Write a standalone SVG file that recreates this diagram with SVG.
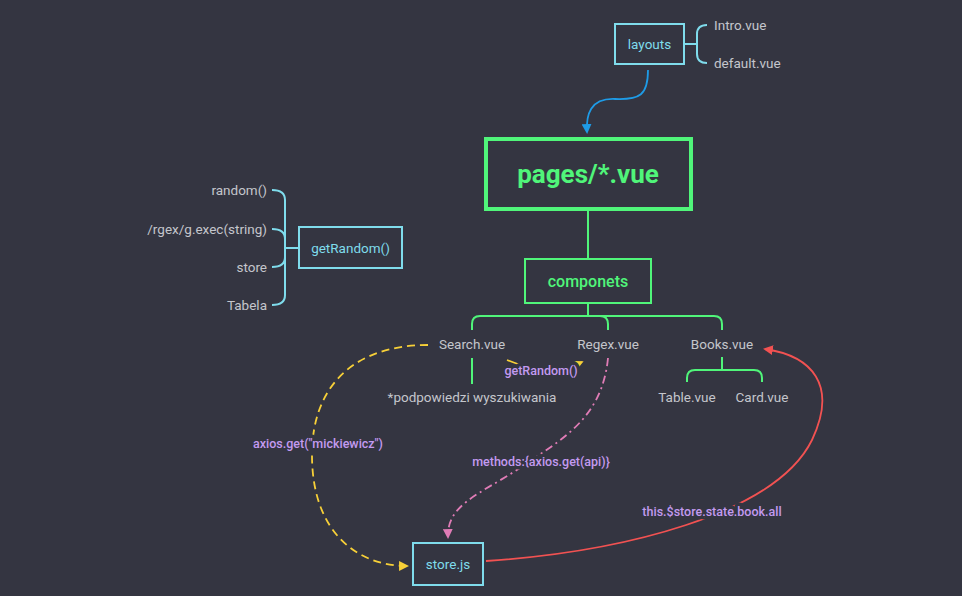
<svg xmlns="http://www.w3.org/2000/svg" width="962" height="596" viewBox="0 0 962 596">
<defs>
<style>
text{font-family:Roboto,"Liberation Sans",sans-serif;text-anchor:middle;dominant-baseline:central}
.box{fill:none;stroke:#7fdcec;stroke-width:2}
.gbox{fill:none;stroke:#50f57a;stroke-width:2}
.ct{fill:#7fdcec;font-size:13.5px}
.gt{fill:#50f57a;font-weight:500}
.lt{fill:#c4c6cc;font-size:13.5px}
.lbl{fill:#c39af0;font-size:12.5px;font-weight:500;paint-order:stroke;stroke:#343541;stroke-width:7px;stroke-linejoin:round}
.br{fill:none;stroke:#7fdcec;stroke-width:2}
.gl{fill:none;stroke:#50f57a;stroke-width:2}
</style>
<marker id="aBlue" viewBox="0 0 10 10" refX="8" refY="5" markerWidth="5.5" markerHeight="5.5" orient="auto"><path d="M0,0L10,5L0,10z" fill="#1e9be6"/></marker>
<marker id="aYel" viewBox="0 0 10 10" refX="8" refY="5" markerWidth="5.5" markerHeight="5.5" orient="auto"><path d="M0,0L10,5L0,10z" fill="#f7d038"/></marker>
<marker id="aPink" viewBox="0 0 10 10" refX="8" refY="5" markerWidth="5.5" markerHeight="5.5" orient="auto"><path d="M0,0L10,5L0,10z" fill="#e07cb6"/></marker>
<marker id="aRed" viewBox="0 0 10 10" refX="8" refY="5" markerWidth="5.5" markerHeight="5.5" orient="auto"><path d="M0,0L10,5L0,10z" fill="#f25252"/></marker>
</defs>
<rect width="962" height="596" fill="#343541"/>

<g id="connectors">
<path d="M684,44 L697,44 M707,25 Q697,25 697,34 L697,54 Q697,63 707,63" class="br"/>
<path d="M299,248 L285,248 M272,190 Q285,190 285,200 L285,295 Q285,305 272,305 M272,229 Q285,229 285,239 M272,267 Q285,267 285,257" class="br"/>
<path d="M648,70 C648,95 640,100 615,99 C590,98 586,115 587,132" fill="none" stroke="#1e9be6" stroke-width="1.8" marker-end="url(#aBlue)"/>
<path d="M588,209 L588,259" class="gl"/>
<path d="M588,303 L588,316 M472,330 L472,324 Q472,316 480,316 L714,316 Q722,316 722,324 L722,330 M608,330 L608,324 Q608,316 600,316" class="gl"/>
<path d="M472,358 L472,384" class="gl"/>
<path d="M722,357 L722,370 M687,382 L687,378 Q687,370 695,370 L754,370 Q762,370 762,378 L762,382" class="gl"/>
<path d="M428,345 C355,345 312,385 312,455 C312,535 360,566 407,566" fill="none" stroke="#f7d038" stroke-width="1.8" stroke-dasharray="8,5" marker-end="url(#aYel)"/>
<path d="M507,360 C530,370 560,372 582,362" fill="none" stroke="#f7d038" stroke-width="1.6" marker-end="url(#aYel)"/>
<path d="M608,358 C602,420 560,440 520,468 C478,495 447,505 448,537" fill="none" stroke="#e07cb6" stroke-width="1.8" stroke-dasharray="8,4,2,4" marker-end="url(#aPink)"/>
<path d="M486,561 C620,552 775,515 812,440 C838,385 812,356 765,349" fill="none" stroke="#f25252" stroke-width="1.8" marker-end="url(#aRed)"/>
</g>

<g id="layouts"><rect x="615" y="24" width="69" height="40" class="box"/><text x="649.5" y="44" class="ct">layouts</text></g>
<g id="intro"><text x="714" y="25" class="lt" style="text-anchor:start">Intro.vue</text></g>
<g id="default"><text x="714" y="63" class="lt" style="text-anchor:start">default.vue</text></g>
<g id="pages"><rect x="486" y="139" width="205" height="70" fill="none" stroke="#50f57a" stroke-width="4"/><text x="588" y="174" class="gt" style="font-size:26px;font-weight:700">pages/*.vue</text></g>
<g id="componets"><rect x="525" y="259" width="126" height="44" class="gbox"/><text x="588" y="281" class="gt" style="font-size:16px">componets</text></g>
<g id="search"><text x="472" y="344" class="lt">Search.vue</text></g>
<g id="regex"><text x="608" y="344" class="lt">Regex.vue</text></g>
<g id="books"><text x="722" y="344" class="lt">Books.vue</text></g>
<g id="podpowiedzi"><text x="472" y="397" class="lt">*podpowiedzi wyszukiwania</text></g>
<g id="table"><text x="687" y="397" class="lt">Table.vue</text></g>
<g id="card"><text x="762" y="397" class="lt">Card.vue</text></g>
<g id="getRandom"><rect x="299" y="227" width="103" height="41" class="box"/><text x="350.5" y="248" class="ct">getRandom()</text></g>
<g id="random"><text x="267" y="190" class="lt" style="text-anchor:end">random()</text></g>
<g id="rgex"><text x="267" y="229" class="lt" style="text-anchor:end">/rgex/g.exec(string)</text></g>
<g id="store"><text x="267" y="267" class="lt" style="text-anchor:end">store</text></g>
<g id="tabela"><text x="267" y="305" class="lt" style="text-anchor:end">Tabela</text></g>
<g id="storejs"><rect x="413" y="543" width="70" height="42" class="box"/><text x="448" y="564" class="ct">store.js</text></g>

<g id="labels">
<text x="541" y="370" class="lbl">getRandom()</text>
<text x="318" y="443" class="lbl">axios.get("mickiewicz")</text>
<text x="541" y="461" class="lbl">methods:{axios.get(api)}</text>
<text x="712" y="511" class="lbl">this.$store.state.book.all</text>
</g>
</svg>
